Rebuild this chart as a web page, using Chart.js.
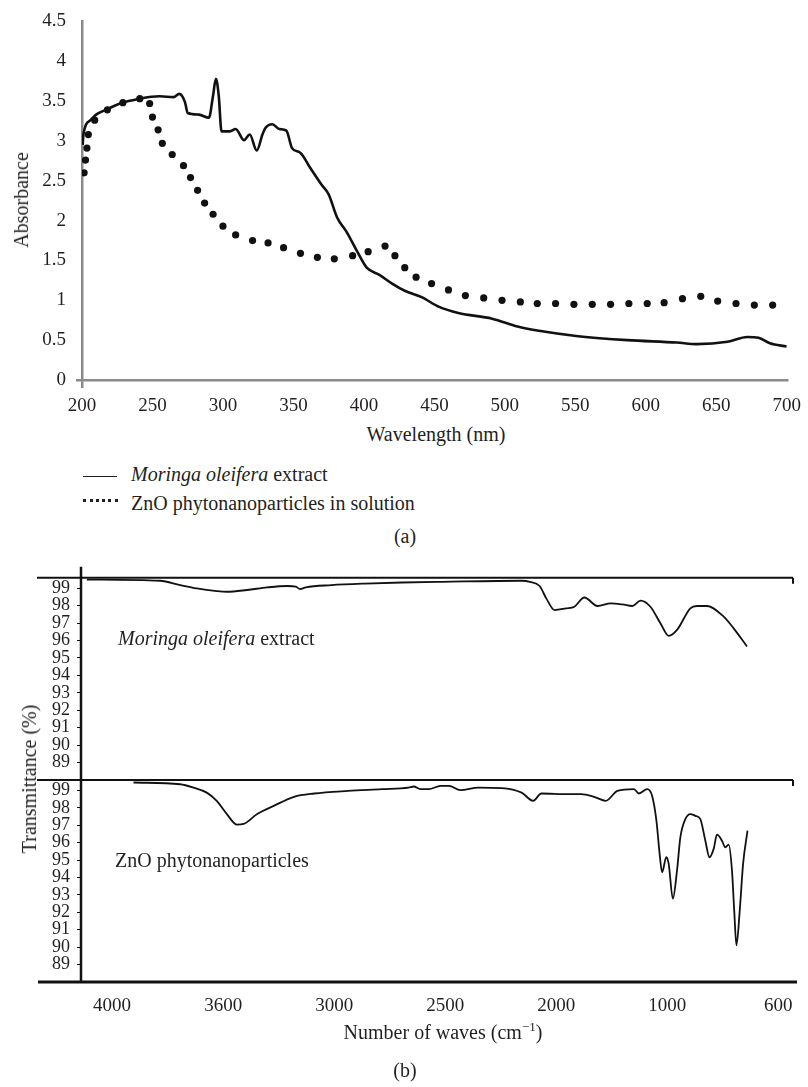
<!DOCTYPE html>
<html>
<head>
<meta charset="utf-8">
<script src="https://cdn.jsdelivr.net/npm/chart.js@4.4.0/dist/chart.umd.min.js"></script>
<style>
  body { margin: 0; background: #fff; }
  #page { position: relative; width: 808px; height: 1087px; font-family: "Liberation Serif", "DejaVu Serif", serif; color: #231f20; }
  canvas { position: absolute; left: 0; }
  .t { position: absolute; font-size: 20px; line-height: 20px; white-space: nowrap; }
  .c { transform: translateX(-50%); }
  .rot { transform: translate(-50%, -50%) rotate(-90deg); }
</style>
</head>
<body>
<div id="page">
  <canvas id="uv" width="808" height="420" style="top:0"></canvas>
  <canvas id="ir" width="808" height="480" style="top:560px"></canvas>

  <div class="t rot" style="left:21px; top:200px">Absorbance</div>
  <div class="t c" style="left:436px; top:424px">Wavelength (nm)</div>
  <div style="position:absolute; left:83px; top:476px; width:34px; border-top:1.5px solid #231f20"></div>
  <div class="t" style="left:131px; top:464px"><i>Moringa oleifera</i> extract</div>
  <div style="position:absolute; left:83px; top:499px; width:35px; border-top:3px dotted #231f20"></div>
  <div class="t" style="left:131px; top:493px">ZnO phytonanoparticles in solution</div>
  <div class="t c" style="left:405px; top:526px">(a)</div>

  <div class="t rot" style="left:29px; top:779px">Transmittance (%)</div>
  <div class="t" style="left:118px; top:628px"><i>Moringa oleifera</i> extract</div>
  <div class="t" style="left:115px; top:850px">ZnO phytonanoparticles</div>
  <div class="t c" style="left:443px; top:1022px">Number of waves (cm<sup style="font-size:13px; line-height:0">−1</sup>)</div>
  <div class="t c" style="left:405px; top:1060px">(b)</div>
</div>

<script>
// (a) UV-vis
const moringaWavelength = [200.5, 201, 206, 210, 217, 227, 241, 255, 265, 269, 273, 275, 283, 290, 293, 295, 297, 299, 305, 309, 315, 319, 324, 328, 330, 335, 340, 345, 349, 355, 362, 370, 375, 381, 388, 395, 402, 411, 420, 429, 441, 453, 467, 491, 509, 523, 552, 587, 622, 636, 658, 672, 680, 688, 700];
const moringaAbs = [2.95, 3.08, 3.26, 3.33, 3.39, 3.47, 3.53, 3.56, 3.55, 3.59, 3.49, 3.35, 3.33, 3.29, 3.57, 3.78, 3.57, 3.12, 3.12, 3.15, 3.01, 3.08, 2.88, 3.08, 3.16, 3.21, 3.15, 3.13, 2.91, 2.85, 2.66, 2.45, 2.33, 2.04, 1.85, 1.62, 1.41, 1.32, 1.21, 1.12, 1.04, 0.92, 0.84, 0.77, 0.67, 0.62, 0.55, 0.50, 0.47, 0.45, 0.48, 0.54, 0.53, 0.46, 0.42];
const znoWavelength = [201.5, 202.5, 203.5, 204.5, 209, 218, 229, 241, 248, 250, 254, 257, 264, 272, 277, 282, 287, 293, 300, 309, 321, 332, 343, 355, 367, 379, 392, 403, 415, 422, 429, 437, 448, 460, 472, 485, 498, 511, 523, 536, 549, 562, 575, 588, 601, 613, 626, 639, 651, 664, 677, 690];
const znoAbs = [2.60, 2.76, 2.91, 3.08, 3.26, 3.39, 3.48, 3.53, 3.47, 3.30, 3.14, 2.97, 2.83, 2.69, 2.54, 2.38, 2.22, 2.08, 1.93, 1.82, 1.75, 1.72, 1.66, 1.59, 1.54, 1.52, 1.56, 1.61, 1.68, 1.56, 1.41, 1.29, 1.21, 1.13, 1.06, 1.03, 1.00, 0.98, 0.96, 0.96, 0.95, 0.95, 0.95, 0.96, 0.96, 0.97, 1.02, 1.05, 0.99, 0.96, 0.94, 0.94];
const uvXTicks = [200, 250, 300, 350, 400, 450, 500, 550, 600, 650, 700];
const uvYTicks = [0, 0.5, 1, 1.5, 2, 2.5, 3, 3.5, 4, 4.5];

// (b) FTIR
const moringaWaveNumber = [4091, 3827, 3755, 3695, 3623, 3580, 3471, 3362, 3253, 3207, 3184, 3153, 3016, 2862, 2695, 2514, 2156, 2119, 2075, 2045, 2008, 1911, 1837, 1747, 1628, 1509, 1404, 1315, 1241, 1152, 1062, 995, 965, 917, 893, 857, 797, 761, 713];
const moringaTrans = [99.5, 99.43, 99.18, 98.99, 98.84, 98.8, 98.9, 99.05, 99.13, 99.09, 98.95, 99.05, 99.18, 99.27, 99.33, 99.37, 99.43, 99.37, 99.13, 98.42, 97.75, 97.85, 97.94, 98.47, 97.98, 98.13, 98.07, 97.98, 98.29, 97.94, 96.99, 96.27, 96.61, 97.85, 97.98, 97.98, 97.37, 96.7, 95.66];
const znoWaveNumber = [3923, 3755, 3707, 3659, 3623, 3580, 3525, 3489, 3416, 3326, 3217, 3108, 2938, 2786, 2665, 2642, 2612, 2574, 2521, 2483, 2432, 2350, 2246, 2156, 2104, 2067, 1896, 1777, 1658, 1554, 1449, 1301, 1256, 1181, 1137, 1098, 1069, 1047, 1009, 995, 980, 965, 953, 935, 917, 899, 881, 863, 848, 833, 821, 803, 791, 779, 767, 759, 751, 739, 727, 711];
const znoTrans = [99.45, 99.35, 99.16, 98.87, 98.4, 97.64, 97.03, 97.07, 97.64, 98.11, 98.63, 98.82, 98.97, 99.07, 99.16, 99.22, 99.07, 99.07, 99.26, 99.26, 99.01, 99.16, 99.13, 98.87, 98.4, 98.82, 98.78, 98.78, 98.63, 98.4, 98.97, 99.07, 98.82, 99.07, 98.69, 97.26, 95.35, 94.3, 95.16, 94.78, 92.78, 94.4, 96.3, 97.35, 97.64, 97.54, 97.35, 96.11, 95.16, 95.64, 96.46, 96.11, 95.73, 95.89, 94.4, 92.11, 90.11, 92.11, 94.78, 96.69];
const irXTicks = [4000, 3600, 3000, 2500, 2000, 1000, 600];
const irYTicks = [89, 90, 91, 92, 93, 94, 95, 96, 97, 98, 99];

const serif = "'Liberation Serif', 'DejaVu Serif', serif";
const ink = "#231f20";

const toXY = (xs, ys) => xs.map((x, i) => ({ x: x, y: ys[i] }));

// the printed wavenumber axis is evenly spaced between uneven labels
const wavePos = (w) => {
  for (let i = 0; i < irXTicks.length - 1; i++) {
    const a = irXTicks[i], b = irXTicks[i + 1];
    if (w >= b || i === irXTicks.length - 2) return i + (a - w) / (a - b);
  }
};
const toIR = (ws, ts) => ws.map((w, i) => ({ x: wavePos(w), y: ts[i] }));

//! ------------------------ chart (a) ------------------------
new Chart(document.getElementById("uv"), {
  type: "scatter",
  data: {
    datasets: [
      {
        label: "Moringa oleifera extract",
        data: toXY(moringaWavelength, moringaAbs),
        showLine: true,
        borderColor: "#111",
        borderWidth: 2.6,
        pointRadius: 0,
        cubicInterpolationMode: "monotone",
      },
      {
        label: "ZnO phytonanoparticles in solution",
        data: toXY(znoWavelength, znoAbs),
        showLine: false,
        pointRadius: 3.6,
        backgroundColor: "#111",
        borderWidth: 0,
      },
    ],
  },
  options: {
    responsive: false,
    animation: false,
    layout: { padding: { top: 19, right: 18, left: 0, bottom: 0 } },
    plugins: { legend: { display: false }, tooltip: { enabled: false } },
    scales: {
      x: {
        type: "linear",
        min: 200,
        max: 700,
        afterBuildTicks: (s) => { s.ticks = uvXTicks.map((v) => ({ value: v })); },
        afterFit: (s) => { s.height = 40; },
        grid: { drawOnChartArea: false, tickLength: 8, lineWidth: 2.5,
          color: (c) => (c.index === 0 ? "#8a8a8a" : "rgba(0,0,0,0)") },
        border: { color: "#8a8a8a", width: 2.5 },
        ticks: { font: { family: serif, size: 19 }, color: ink, padding: 7, maxRotation: 0, autoSkip: false,
          callback: (v) => String(v) },
      },
      y: {
        type: "linear",
        min: 0,
        max: 4.5,
        afterBuildTicks: (s) => { s.ticks = uvYTicks.map((v) => ({ value: v })); },
        afterFit: (s) => { s.width = 82; },
        grid: { drawOnChartArea: false, tickLength: 6, lineWidth: 2.5,
          color: (c) => (c.index === 0 ? "#8a8a8a" : "rgba(0,0,0,0)") },
        border: { color: "#8a8a8a", width: 2.5 },
        ticks: { font: { family: serif, size: 19 }, color: ink, padding: 10, autoSkip: false,
          callback: (v) => String(v) },
      },
    },
  },
});

//! ------------------------ chart (b) ------------------------
const frameLines = {
  id: "frameLines",
  afterDraw(chart) {
    const ctx = chart.ctx;
    const a = chart.chartArea;
    const top = chart.scales.yTop;
    const bot = chart.scales.yBottom;
    ctx.save();
    ctx.strokeStyle = "#111";
    ctx.lineWidth = 2;
    [top.top, bot.top].forEach((y) => {
      ctx.beginPath();
      ctx.moveTo(37, y);
      ctx.lineTo(a.right - 2, y);
      ctx.stroke();
      ctx.beginPath();
      ctx.moveTo(a.right - 2, y);
      ctx.lineTo(a.right - 2, y + 6);
      ctx.stroke();
    });
    ctx.lineWidth = 3;
    ctx.beginPath();
    ctx.moveTo(38, bot.bottom);
    ctx.lineTo(a.right + 2, bot.bottom);
    ctx.stroke();
    ctx.lineWidth = 2.5;
    ctx.beginPath();
    ctx.moveTo(a.left, a.top - 11);
    ctx.lineTo(a.left, a.bottom);
    ctx.stroke();
    ctx.restore();
  },
};

const irYScale = {
  type: "linear",
  position: "left",
  stack: "ir",
  stackWeight: 1,
  min: 88,
  max: 99.6,
  afterBuildTicks: (s) => { s.ticks = irYTicks.map((v) => ({ value: v })); },
  afterFit: (s) => { s.width = 81; },
  grid: { drawOnChartArea: false, tickLength: 4, color: "#111", lineWidth: 1 },
  border: { display: false },
  ticks: { font: { family: serif, size: 18 }, color: ink, padding: 7, autoSkip: false,
    callback: (v) => String(v) },
};

new Chart(document.getElementById("ir"), {
  type: "scatter",
  data: {
    datasets: [
      {
        label: "Moringa oleifera extract",
        data: toIR(moringaWaveNumber, moringaTrans),
        yAxisID: "yTop",
        showLine: true,
        borderColor: "#111",
        borderWidth: 1.8,
        pointRadius: 0,
        cubicInterpolationMode: "monotone",
      },
      {
        label: "ZnO phytonanoparticles",
        data: toIR(znoWaveNumber, znoTrans),
        yAxisID: "yBottom",
        showLine: true,
        borderColor: "#111",
        borderWidth: 1.8,
        pointRadius: 0,
        cubicInterpolationMode: "monotone",
      },
    ],
  },
  options: {
    responsive: false,
    animation: false,
    layout: { padding: { top: 16, right: 13, left: 0, bottom: 0 } },
    plugins: { legend: { display: false }, tooltip: { enabled: false } },
    scales: {
      // left stack is laid out in reverse order, so the lower panel comes first
      yBottom: { ...irYScale },
      yTop: { ...irYScale },
      x: {
        type: "linear",
        min: -0.28,
        max: 6.15,
        afterBuildTicks: (s) => { s.ticks = irXTicks.map((v, i) => ({ value: i })); },
        afterFit: (s) => { s.height = 58; },
        grid: { display: false },
        border: { display: false },
        ticks: { font: { family: serif, size: 19 }, color: ink, padding: 5, maxRotation: 0, autoSkip: false,
          callback: (v) => String(irXTicks[v]) },
      },
    },
  },
  plugins: [frameLines],
});
</script>
</body>
</html>
